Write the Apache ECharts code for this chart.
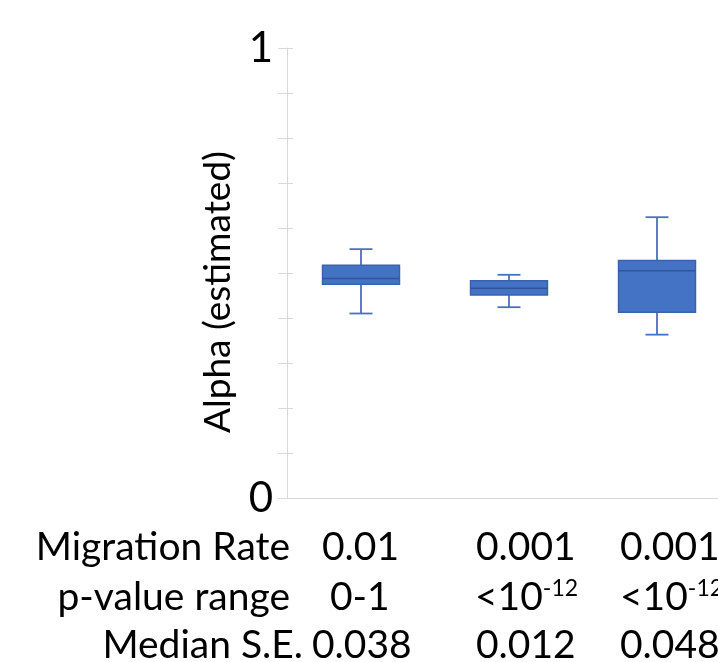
<!DOCTYPE html>
<html><head><meta charset="utf-8">
<script src="https://cdn.jsdelivr.net/npm/echarts@6/dist/echarts.min.js"></script>
<style>html,body{margin:0;padding:0;background:#fff}#c{width:718px;height:662px}</style>
</head><body><div id="c"></div>
<script>
// ---- data ----
const categories = ['Set 1', 'Set 2', 'Set 3'];
const whiskerLow  = [0.410, 0.424, 0.363];
const q1          = [0.475, 0.451, 0.413];
const median      = [0.488, 0.466, 0.505];
const q3          = [0.517, 0.483, 0.528];
const whiskerHigh = [0.553, 0.496, 0.624];
const yTickLabels = {0: '0', 1: '1'};
const yAxisTitle = 'Alpha (estimated)';
const rowHeaders = ['Migration Rate', 'p-value range', 'Median S.E.'];
const migrationRate = ['0.01', '0.001', '0.001'];
const pValueRange = ['0-1', '<10{sup|-12}', '<10{sup|-12}'];
const medianSE = ['0.038', '0.012', '0.048'];

// ---- layout ----
const FONT = 'Lato';
const rowY = [547, 597, 645];
const headerRight = [290, 290, 303];
const colLeft = [[322, 476, 620], [330, 475, 620], [312, 476, 620]];
const tableFont = 39;
const gridLeft = 287, gridWidth = 431, bandPx = 148;
const xMin = -0.5, xMax = -0.5 + gridWidth / bandPx; // the chart is cropped at the right edge

const chart = echarts.init(document.getElementById('c'));
const boxFill = '#4472C4', boxStroke = '#3A63AC', medStroke = '#2F5597';

const seriesData = categories.map((c, i) => [i, whiskerLow[i], q1[i], median[i], q3[i], whiskerHigh[i]]);

const graphics = [];
graphics.push({
  type: 'text', x: 218, y: 292, rotation: Math.PI / 2,
  style: { text: yAxisTitle, font: '37px ' + FONT, fill: '#000', align: 'center', verticalAlign: 'middle' }
});
const rows = [migrationRate, pValueRange, medianSE];
rowHeaders.forEach((h, r) => {
  graphics.push({
    type: 'text', x: headerRight[r], y: rowY[r],
    style: { text: h, font: tableFont + 'px ' + FONT, fill: '#000', align: 'right', verticalAlign: 'middle' }
  });
  rows[r].forEach((v, c) => {
    graphics.push({
      type: 'text', x: colLeft[r][c], y: rowY[r],
      style: {
        text: v, font: tableFont + 'px ' + FONT, fill: '#000', align: 'left', verticalAlign: 'middle',
        rich: { sup: { fontSize: 23, fontFamily: FONT, verticalAlign: 'top', padding: [0, 0, 15, 0], fill: '#000' } }
      }
    });
  });
});

chart.setOption({
  animation: false,
  backgroundColor: '#fff',
  grid: { left: gridLeft, top: 48, width: gridWidth, height: 450, containLabel: false },
  xAxis: {
    type: 'value', min: xMin, max: xMax,
    axisLine: { show: true, onZero: false, lineStyle: { color: '#D9D9D9', width: 1 } },
    axisTick: { show: false }, axisLabel: { show: false }, splitLine: { show: false }
  },
  yAxis: [{
    type: 'value', min: 0, max: 1, interval: 0.1,
    axisLine: { show: true, onZero: false, lineStyle: { color: '#D9D9D9', width: 1 } },
    axisTick: { show: true, length: 9, lineStyle: { color: '#D9D9D9', width: 1 } },
    axisLabel: {
      show: true, margin: 14, fontSize: 42, fontFamily: FONT, color: '#000',
      formatter: v => (yTickLabels[Math.round(v * 10) / 10] || '')
    },
    splitLine: { show: false }
  }, {
    type: 'value', min: 0, max: 1, interval: 0.1, position: 'left',
    axisLine: { show: false, onZero: false },
    axisTick: { show: true, inside: true, length: 6, lineStyle: { color: '#D9D9D9', width: 1 } },
    axisLabel: { show: false }, splitLine: { show: false }
  }],
  series: [{
    type: 'custom',
    data: seriesData,
    encode: { x: 0, y: [1, 2, 3, 4, 5] },
    renderItem: function (params, api) {
      const i = api.value(0);
      const band = api.size([1, 0])[0];
      const bw = band * 0.52, cw = band * 0.155;
      const cx = api.coord([i, 0])[0];
      const y = v => api.coord([i, v])[1];
      const yLo = y(api.value(1)), yQ1 = y(api.value(2)), yMed = y(api.value(3)), yQ3 = y(api.value(4)), yHi = y(api.value(5));
      const ls = { stroke: boxFill, lineWidth: 1.8 };
      return {
        type: 'group', children: [
          { type: 'line', shape: { x1: cx, y1: yHi, x2: cx, y2: yQ3 }, style: ls },
          { type: 'line', shape: { x1: cx, y1: yQ1, x2: cx, y2: yLo }, style: ls },
          { type: 'line', shape: { x1: cx - cw / 2, y1: yHi, x2: cx + cw / 2, y2: yHi }, style: ls },
          { type: 'line', shape: { x1: cx - cw / 2, y1: yLo, x2: cx + cw / 2, y2: yLo }, style: ls },
          { type: 'rect', shape: { x: cx - bw / 2, y: yQ3, width: bw, height: yQ1 - yQ3 }, style: { fill: boxFill, stroke: boxStroke, lineWidth: 1.5 } },
          { type: 'line', shape: { x1: cx - bw / 2, y1: yMed, x2: cx + bw / 2, y2: yMed }, style: { stroke: medStroke, lineWidth: 1.5 } }
        ]
      };
    }
  }],
  graphic: graphics
});
</script></body></html>
